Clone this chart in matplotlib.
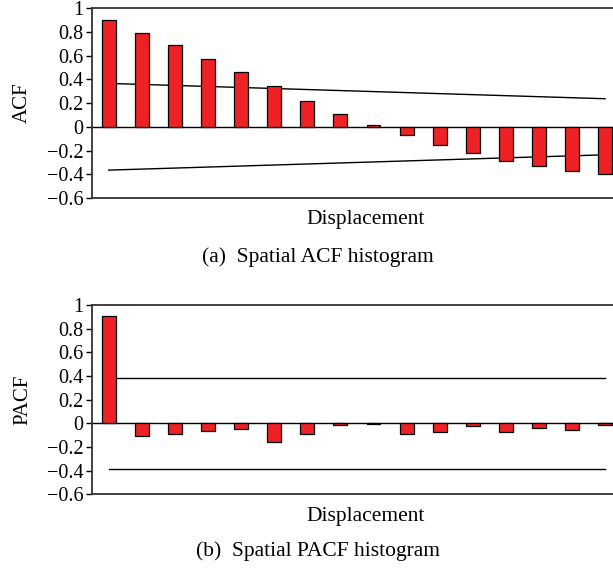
import matplotlib.pyplot as plt
import numpy as np

plt.rcParams['font.family'] = ['Liberation Serif', 'DejaVu Serif']

# lags 1..16
lags = np.arange(1, 17)
acf = [0.90, 0.79, 0.685, 0.57, 0.463, 0.34, 0.219, 0.107, 0.017,
       -0.073, -0.154, -0.225, -0.286, -0.331, -0.373, -0.396]
pacf = [0.905, -0.105, -0.088, -0.068, -0.051, -0.155, -0.093, -0.017, -0.008,
        -0.088, -0.077, -0.025, -0.073, -0.042, -0.054, -0.012]

# confidence bounds (end points at first and last lag)
acf_conf_lags = [1, 16]
acf_conf = [0.365, 0.236]
pacf_conf_lags = [1, 16]
pacf_conf = [0.385, 0.385]

yticks = [-0.6, -0.4, -0.2, 0, 0.2, 0.4, 0.6, 0.8, 1]
ytick_labels = ['\u22120.6', '\u22120.4', '\u22120.2', '0', '0.2', '0.4', '0.6', '0.8', '1']

fig = plt.figure(figsize=(6.13, 5.71), dpi=100)
ax1 = fig.add_axes([0.150, 0.6532, 0.850, 0.3328])
ax2 = fig.add_axes([0.150, 0.1343, 0.850, 0.3315])


def draw(ax, vals, clags, conf, ylab):
    ax.bar(lags, vals, width=0.42, color='#ee2224', edgecolor='black', linewidth=0.9, zorder=3)
    ax.axhline(0, color='black', lw=1.0, zorder=2)
    ax.plot(clags, conf, color='black', lw=1.0)
    ax.plot(clags, [-c for c in conf], color='black', lw=1.0)
    ax.set_xlim(0.49, 16.24)
    ax.set_ylim(-0.6, 1)
    ax.set_yticks(yticks)
    ax.set_yticklabels(ytick_labels)
    ax.set_xticks([])
    ax.tick_params(axis='y', direction='out', length=4, width=1.0, labelsize=14.5, pad=2)
    ax.spines['right'].set_visible(False)
    for s in ['top', 'bottom', 'left']:
        ax.spines[s].set_linewidth(1.3)
        ax.spines[s].set_color('#333333')
    ax.set_ylabel(ylab, fontsize=15)
    ax.yaxis.set_label_coords(-0.115, 0.5)
    ax.set_xlabel('Displacement', fontsize=15.5)
    ax.xaxis.set_label_coords(0.526, -0.065)


draw(ax1, acf, acf_conf_lags, acf_conf, 'ACF')
draw(ax2, pacf, pacf_conf_lags, pacf_conf, 'PACF')

fig.text(318 / 613, 1 - 257 / 571, '(a)  Spatial ACF histogram', ha='center', va='center', fontsize=15.5)
fig.text(318 / 613, 1 - 551 / 571, '(b)  Spatial PACF histogram', ha='center', va='center', fontsize=15.5)

fig.savefig('out.png', dpi=100)
